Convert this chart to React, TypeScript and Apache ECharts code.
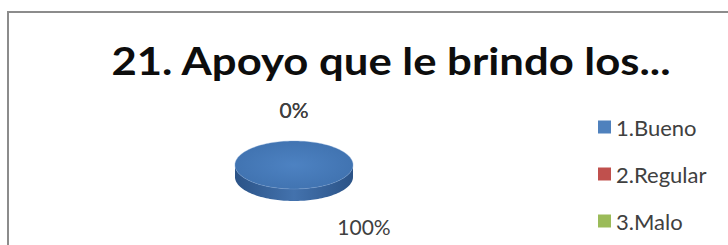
import React, { useEffect, useRef } from "react";
import * as echarts from "echarts";

const titleText = "21. Apoyo que le brindo los...";
const categories = ["1.Bueno", "2.Regular", "3.Malo"];
const values = [100, 0, 0];
const colors = ["#4F81BD", "#C0504D", "#9BBB59"];
const sideColors = [
  ["#2b5387", "#4372ad"],
  ["#8c3532", "#b04a47"],
  ["#6e8a3c", "#8cab52"],
];

const CX = 294;
const CY = 165;
const RX = 59;
const RY = 24;
const DEPTH = 12;
const FONT = "Lato, 'Open Sans', sans-serif";

function pt(deg: number, dy = 0): number[] {
  const r = (deg * Math.PI) / 180;
  return [CX + RX * Math.sin(r), CY - RY * Math.cos(r) + dy];
}

function arc(a: number, b: number, dy = 0): number[][] {
  const out: number[][] = [];
  const n = Math.max(2, Math.ceil(Math.abs(b - a) / 2));
  for (let k = 0; k <= n; k++) out.push(pt(a + ((b - a) * k) / n, dy));
  return out;
}

export default function App() {
  const ref = useRef<HTMLDivElement>(null);
  useEffect(() => {
    if (!ref.current) return;
    const chart = echarts.init(ref.current, null, { renderer: "svg" });
    const total = values.reduce((s, v) => s + v, 0);

    const renderItem = (params: any) => {
      const i = params.dataIndex;
      let before = 0;
      for (let k = 0; k < i; k++) before += values[k];
      const start = (before / total) * 360;
      const end = ((before + values[i]) / total) * 360;
      const children: any[] = [];
      if (end - start > 0.001) {
        const a = Math.max(start, 90);
        const b = Math.min(end, 270);
        if (b > a) {
          const pts = arc(a, b).concat(arc(b, a, DEPTH));
          children.push({
            type: "polygon",
            shape: { points: pts },
            style: {
              fill: {
                type: "linear",
                x: 0, y: 0, x2: 1, y2: 0,
                colorStops: [
                  { offset: 0, color: sideColors[i][0] },
                  { offset: 0.5, color: sideColors[i][1] },
                  { offset: 1, color: sideColors[i][0] },
                ],
              },
            },
          });
        }
        const full = end - start >= 359.999;
        const topPts = full ? arc(0, 360) : [[CX, CY]].concat(arc(start, end));
        children.push({
          type: "polygon",
          shape: { points: topPts },
          style: {
            fill: {
              type: "radial",
              x: 0.5, y: 0.5, r: 0.6,
              colorStops: [
                { offset: 0, color: "#4d82c2" },
                { offset: 1, color: "#3f71ae" },
              ],
            },
            stroke: "rgba(120,160,210,0.6)",
            lineWidth: 0.6,
          },
        });
      }
      const share = values[i] / total;
      const label = Math.round(share * 100) + "%";
      let lx: number;
      let ly: number;
      if (share >= 0.5) {
        lx = CX + 70;
        ly = CY + RY + DEPTH + 25;
      } else {
        const mid = (start + end) / 2;
        const r = (mid * Math.PI) / 180;
        lx = CX + (RX + 20) * Math.sin(r);
        ly = CY - (RY + 32) * Math.cos(r);
      }
      children.push({
        type: "text",
        x: lx,
        y: ly,
        style: {
          text: label,
          fill: "#404040",
          font: `21px ${FONT}`,
          align: "center",
          verticalAlign: "middle",
        },
      });
      return { type: "group", children };
    };

    chart.setOption({
      animation: false,
      color: colors,
      graphic: [
        {
          type: "rect",
          shape: { x: 8, y: 12, width: 760, height: 260 },
          style: { fill: "#ffffff", stroke: "#8c8c8c", lineWidth: 2 },
          z: -10,
        },
        {
          type: "text",
          x: 391,
          y: 60,
          scaleX: 1.12,
          style: {
            text: titleText,
            fill: "#0d0d0d",
            font: `bold 39px ${FONT}`,
            align: "center",
            verticalAlign: "middle",
          },
        },
      ],
      legend: {
        orient: "vertical",
        left: 593,
        top: 111,
        icon: "rect",
        itemWidth: 13,
        itemHeight: 13,
        itemGap: 25,
        textStyle: { color: "#404040", fontSize: 22, fontFamily: FONT, lineHeight: 22 },
        data: categories,
      },
      series: [
        {
          type: "pie",
          radius: [0, 0],
          center: [CX, CY],
          silent: true,
          label: { show: false },
          labelLine: { show: false },
          data: categories.map((n, i) => ({ name: n, value: values[i] })),
        },
        {
          type: "custom",
          coordinateSystem: "none",
          silent: true,
          renderItem,
          data: values,
        },
      ],
    });
    return () => chart.dispose();
  }, []);
  return (
    <div
      ref={ref}
      style={{ position: "fixed", left: 0, top: 0, width: 728, height: 245, background: "#fff" }}
    />
  );
}
